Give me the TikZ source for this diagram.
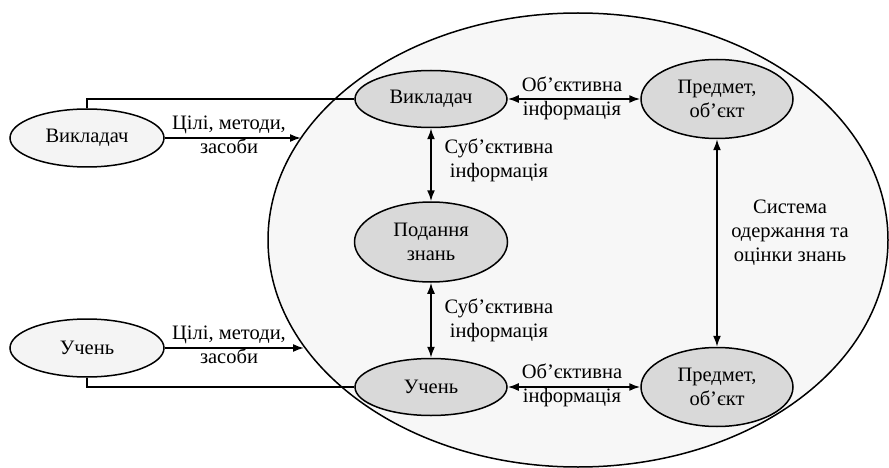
\documentclass[tikz,border=0pt]{standalone}
\usepackage{fontspec}
\setmainfont{Liberation Serif}
\usetikzlibrary{shapes.geometric,arrows.meta}
\definecolor{biggray}{HTML}{F7F7F7}
\definecolor{innergray}{HTML}{D9D9D9}
\definecolor{outergray}{HTML}{F4F4F4}
\begin{document}
\begin{tikzpicture}[x=1pt,y=-1pt,
  txt/.style={font=\fontsize{20.5}{24}\selectfont},
  oval/.style={ellipse,draw,line width=1.5pt,inner sep=0pt,align=center,txt},
  innerov/.style={oval,fill=innergray},
  outerov/.style={oval,fill=outergray},
  lbl/.style={align=center,inner sep=0pt,txt},
  conn/.style={line width=1.7pt},
  arr/.style={conn,-{Latex[length=11pt,width=8pt]}},
  darr/.style={conn,{Latex[length=11pt,width=8pt]}-{Latex[length=11pt,width=8pt]}}]
\useasboundingbox (0,0) rectangle (889,468);
\node[ellipse,draw,line width=1.5pt,fill=biggray,minimum width=620pt,minimum height=454pt,inner sep=0pt] (sys) at (578,240) {};
% outer nodes
\node[outerov,minimum width=154pt,minimum height=58pt] (lv) at (87,138) {Викладач};
\node[outerov,minimum width=154pt,minimum height=58pt] (lu) at (87,348) {Учень};
% inner nodes
\node[innerov,minimum width=152pt,minimum height=57pt] (iv) at (431,99) {Викладач};
\node[innerov,minimum width=152pt,minimum height=57pt] (iu) at (431,387) {Учень};
\node[innerov,minimum width=153pt,minimum height=80pt] (pz) at (431,242) {Подання\\знань};
\node[innerov,minimum width=152pt,minimum height=79pt] (pt) at (717,99) {Предмет,\\об’єкт};
\node[innerov,minimum width=152pt,minimum height=79pt] (pb) at (717,387) {Предмет,\\об’єкт};
% arrow ends on the big ellipse
\coordinate (e1) at (301,138);
\coordinate (e2) at (304,348);
\draw[arr] (lv.east) -- (e1);
\draw[arr] (lu.east) -- (e2);
\draw[conn] (lv.north) |- (iv.west);
\draw[conn] (lu.south) |- (iu.west);
\draw[darr] (iv.east) -- (pt.west);
\draw[darr] (iu.east) -- (pb.west);
\draw[darr] (iv.south) -- (pz.north);
\draw[darr] (pz.south) -- (iu.north);
\draw[darr] (pt.south) -- (pb.north);
% labels
\node[lbl] (l1) at (229,135) {Цілі, методи,\\засоби};
\node[lbl] (l2) at (229,345) {Цілі, методи,\\засоби};
\node[lbl] (l3) at (572,98) {Об’єктивна\\інформація};
\node[lbl] (l4) at (572,385) {Об’єктивна\\інформація};
\node[lbl] (l5) at (499,160) {Суб’єктивна\\інформація};
\node[lbl] (l6) at (499,320) {Суб’єктивна\\інформація};
\node[lbl] (l7) at (790,233) {Система\\одержання та\\оцінки знань};
\end{tikzpicture}
\end{document}
